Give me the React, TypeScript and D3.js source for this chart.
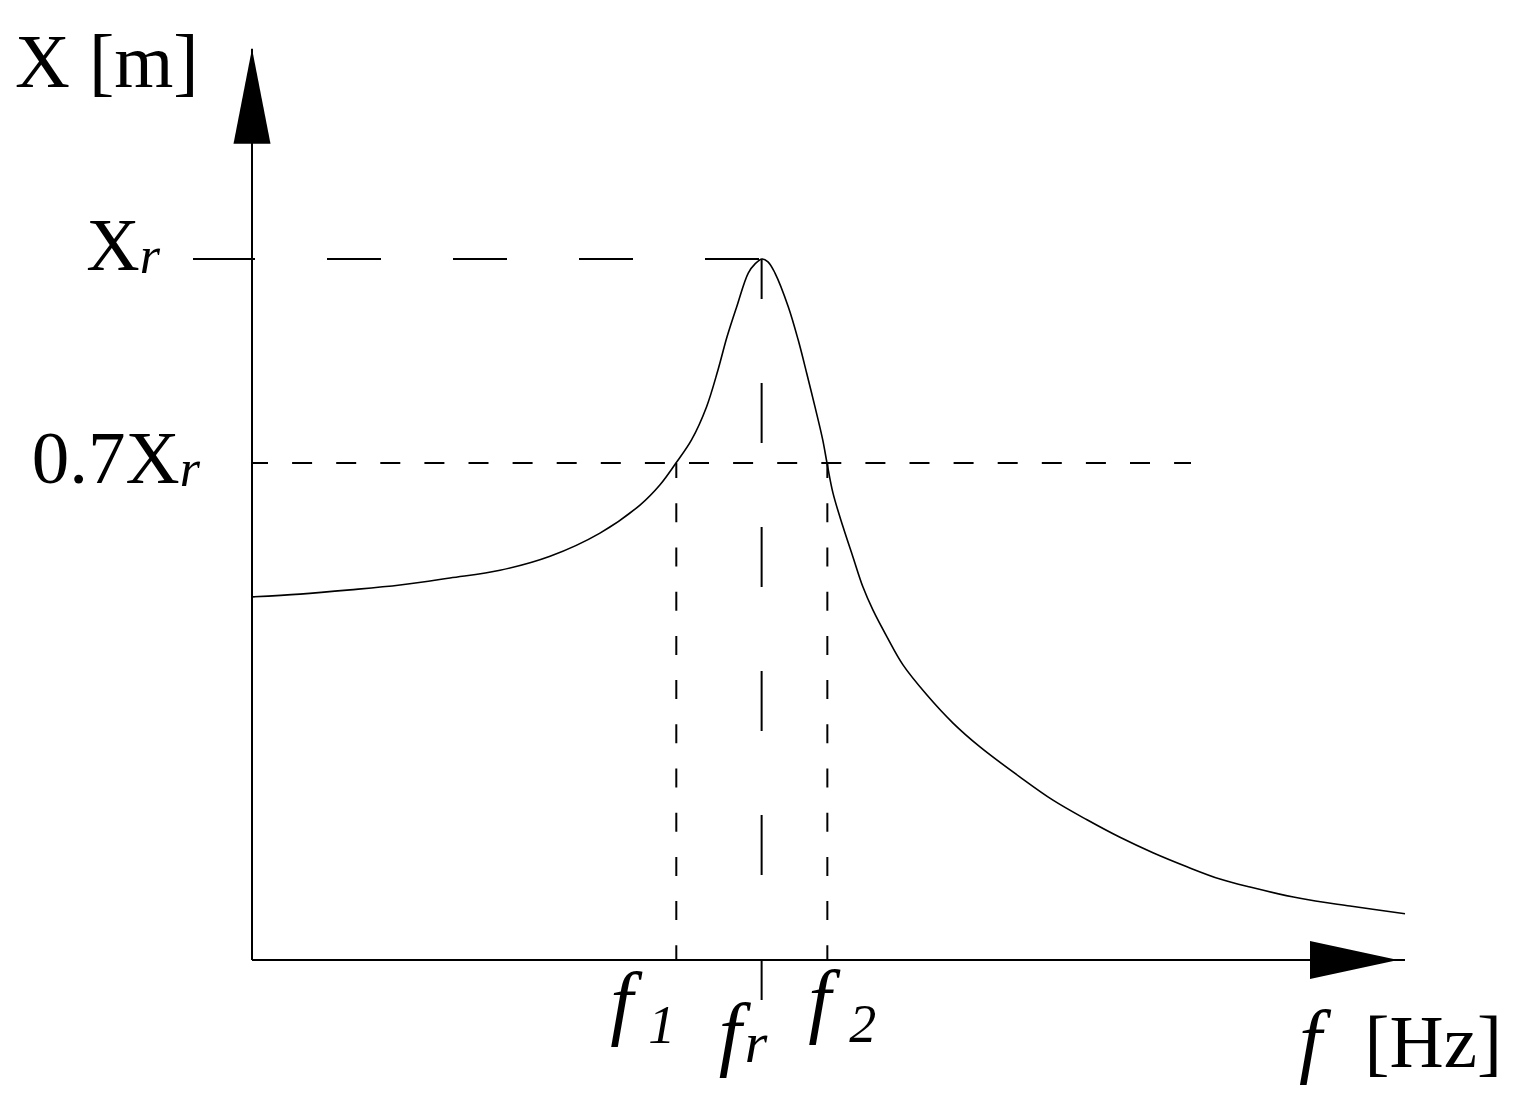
import React from "react";
import * as d3 from "d3";

// resonance curve: frequency (arbitrary units) and amplitude relative to Xr
const FREQ = [0, 4.16, 8.5, 12.84, 17.17, 21.51, 25.85, 30.18, 33.65, 35.39,
  36.77, 38.12, 39.42, 40.42, 41.2, 42.04, 43.04, 43.63, 44.23, 44.75,
  45.36, 46.51, 47.38, 48.11, 48.83, 49.5, 49.87,
  50.39, 51.26, 52.12, 52.99, 53.86, 55.07, 56.46, 58.54, 60.8, 63.14,
  66.61, 69.47, 72.42, 75.28, 78.14, 81.09, 83.95, 86.56, 90.89, 95.23, 100];
const AMP = [0.518, 0.522, 0.528, 0.535, 0.545, 0.556, 0.576, 0.609, 0.649, 0.678,
  0.709, 0.742, 0.789, 0.842, 0.889, 0.932, 0.98, 0.993, 1.0, 0.996,
  0.98, 0.932, 0.884, 0.837, 0.789, 0.742, 0.709,
  0.666, 0.618, 0.575, 0.532, 0.499, 0.461, 0.421, 0.378, 0.338, 0.304,
  0.261, 0.228, 0.2, 0.175, 0.153, 0.133, 0.1155, 0.104, 0.088, 0.077, 0.066];

// marked frequencies
const MARK_FREQ = [36.8, 44.2, 49.9]; // f1, fr, f2
const MARK_SUB = ["1", "r", "2"];

// amplitude levels
const PEAK_LEVEL = 1.0; // Xr
const HALF_LEVEL = 0.709; // 0.7 Xr
const AXIS_TOP = 1.3;

const FONT = "'Liberation Serif', 'Times New Roman', serif";

export default function App() {
  var margin = { left: 252, right: 119, top: 259, bottom: 154 };
  var W = 1524, H = 1114;

  var x = d3.scaleLinear().domain([0, 100]).range([margin.left, W - margin.right]);
  var y = d3.scaleLinear().domain([0, 1]).range([H - margin.bottom, margin.top]);

  var pts = FREQ.map((f, i) => [f, AMP[i]] as [number, number]);
  var line = d3.line<[number, number]>()
    .x(d => x(d[0]))
    .y(d => y(d[1]))
    .curve(d3.curveCatmullRom.alpha(0.5));

  var x0 = x(0), y0 = y(0);
  var xEnd = x.range()[1];
  var yTop = y(AXIS_TOP);
  var fr = MARK_FREQ[1];

  // arrow heads
  var yArrow = `M${x0},${yTop} L${x0 - 18.5},${yTop + 95} L${x0 + 18.5},${yTop + 95} Z`;
  var xTip = xEnd - 7;
  var xArrow = `M${xTip},${y0} L${xTip - 88},${y0 - 19} L${xTip - 88},${y0 + 19} Z`;

  // label placement for f1, fr, f2 (relative to each tick)
  var fDx = [-66, -43, -19];
  var subDx = [-28, -17, 22];
  var labelBase = [1029, 1060, 1027];
  var subBase = [1043, 1062, 1042];

  return (
    <svg width={W} height={H} style={{ position: "absolute", left: 0, top: 0, background: "#fff" }}>
      {/* axes */}
      <line x1={x0} y1={y0} x2={xEnd} y2={y0} stroke="#000" strokeWidth={2} />
      <line x1={x0} y1={y0} x2={x0} y2={yTop} stroke="#000" strokeWidth={2} />
      <path d={yArrow} fill="#000" />
      <path d={xArrow} fill="#000" />

      {/* Xr tick and long dashes */}
      <line x1={x0 - 59} y1={y(PEAK_LEVEL)} x2={x0} y2={y(PEAK_LEVEL)} stroke="#000" strokeWidth={2} />
      <line x1={x0} y1={y(PEAK_LEVEL)} x2={x(fr) + 2} y2={y(PEAK_LEVEL)} stroke="#000" strokeWidth={2}
        strokeDasharray="54 72" strokeDashoffset={51} />

      {/* 0.7 Xr short dashes */}
      <line x1={x0} y1={y(HALF_LEVEL)} x2={1191} y2={y(HALF_LEVEL)} stroke="#000" strokeWidth={2}
        strokeDasharray="20 24.1" strokeDashoffset={4} />

      {/* f1, f2 verticals */}
      {[MARK_FREQ[0], MARK_FREQ[2]].map((f, i) => (
        <line key={i} x1={x(f)} y1={y(HALF_LEVEL)} x2={x(f)} y2={y0} stroke="#000" strokeWidth={2}
          strokeDasharray="19 25.2" strokeDashoffset={3.9} />
      ))}

      {/* fr vertical */}
      <line x1={x(fr)} y1={y(PEAK_LEVEL)} x2={x(fr)} y2={y0 + 40} stroke="#000" strokeWidth={2}
        strokeDasharray="60 84" strokeDashoffset={20} />

      {/* resonance curve */}
      <path d={line(pts) || ""} fill="none" stroke="#000" strokeWidth={1.6} />

      {/* texts */}
      <g fontFamily={FONT} fill="#000">
        <text x={15} y={87} fontSize={76}>X [m]</text>
        <text x={160} y={y(PEAK_LEVEL) + 11} fontSize={74} textAnchor="end">
          X<tspan fontStyle="italic" fontSize={52} dy={3}>r</tspan>
        </text>
        <text x={200} y={y(HALF_LEVEL) + 20} fontSize={75} textAnchor="end">
          0.7X<tspan fontStyle="italic" fontSize={52} dy={3}>r</tspan>
        </text>
        {MARK_FREQ.map((f, i) => (
          <g key={i}>
            <text x={x(f) + fDx[i]} y={labelBase[i]} fontStyle="italic" fontSize={82}>f</text>
            <text x={x(f) + subDx[i]} y={subBase[i]} fontStyle="italic" fontSize={MARK_SUB[i] === "r" ? 58 : 54}>
              {MARK_SUB[i]}
            </text>
          </g>
        ))}
        <text x={1299} y={1067} fontStyle="italic" fontSize={82}>f</text>
        <text x={1502} y={1067} fontSize={75} textAnchor="end">[Hz]</text>
      </g>
    </svg>
  );
}
